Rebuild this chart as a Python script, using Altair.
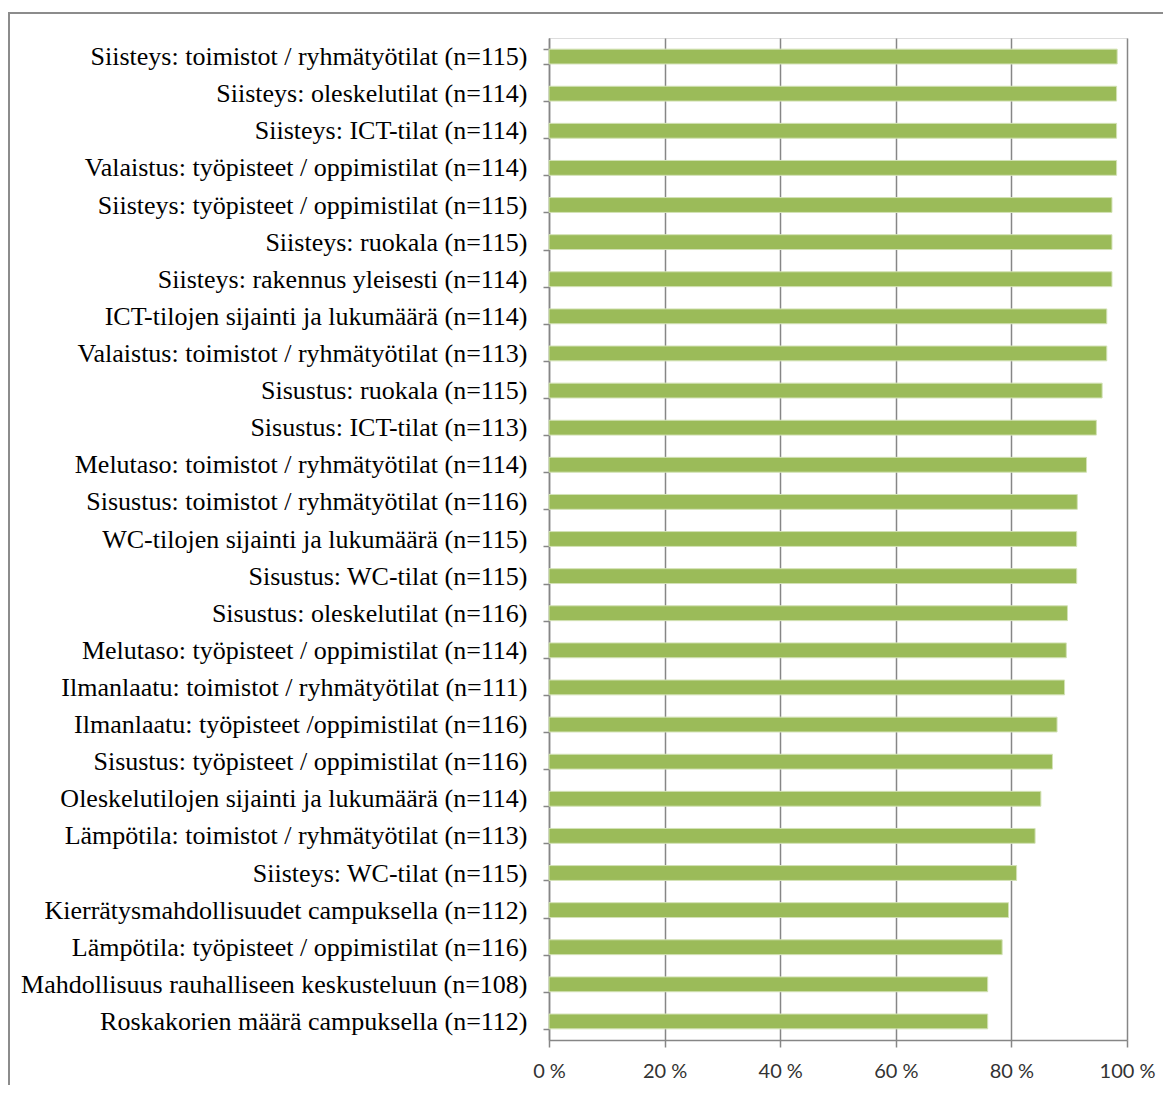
import altair as alt
import pandas as pd

categories = [
    "Siisteys: toimistot / ryhmätyötilat (n=115)",
    "Siisteys: oleskelutilat (n=114)",
    "Siisteys: ICT-tilat (n=114)",
    "Valaistus: työpisteet / oppimistilat (n=114)",
    "Siisteys: työpisteet / oppimistilat (n=115)",
    "Siisteys: ruokala (n=115)",
    "Siisteys: rakennus yleisesti (n=114)",
    "ICT-tilojen sijainti ja lukumäärä (n=114)",
    "Valaistus: toimistot / ryhmätyötilat (n=113)",
    "Sisustus: ruokala (n=115)",
    "Sisustus: ICT-tilat (n=113)",
    "Melutaso: toimistot / ryhmätyötilat (n=114)",
    "Sisustus: toimistot / ryhmätyötilat (n=116)",
    "WC-tilojen sijainti ja lukumäärä (n=115)",
    "Sisustus: WC-tilat (n=115)",
    "Sisustus: oleskelutilat (n=116)",
    "Melutaso: työpisteet / oppimistilat (n=114)",
    "Ilmanlaatu: toimistot / ryhmätyötilat (n=111)",
    "Ilmanlaatu: työpisteet /oppimistilat (n=116)",
    "Sisustus: työpisteet / oppimistilat (n=116)",
    "Oleskelutilojen sijainti ja lukumäärä (n=114)",
    "Lämpötila: toimistot / ryhmätyötilat (n=113)",
    "Siisteys: WC-tilat (n=115)",
    "Kierrätysmahdollisuudet campuksella (n=112)",
    "Lämpötila: työpisteet / oppimistilat (n=116)",
    "Mahdollisuus rauhalliseen keskusteluun (n=108)",
    "Roskakorien määrä campuksella (n=112)",
]

values = [
    98.3, 98.2, 98.2, 98.2, 97.4, 97.4, 97.4, 96.5, 96.5, 95.7,
    94.7, 93.0, 91.4, 91.3, 91.3, 89.7, 89.5, 89.2, 87.9, 87.1,
    85.1, 84.1, 80.9, 79.5, 78.4, 75.9, 75.9,
]

x_ticks = [0, 20, 40, 60, 80, 100]

df = pd.DataFrame({"kohde": categories, "osuus": values})

GRID = "#868686"

bars = alt.Chart(df).mark_bar(
    color="#9BBB59", stroke="#D3E2B6", strokeWidth=1
).encode(
    x=alt.X(
        "osuus:Q",
        scale=alt.Scale(domain=[0, 100], nice=False),
        axis=alt.Axis(
            values=x_ticks,
            title=None,
            labelExpr="datum.value + ' %'",
            labelFont="Lato",
            labelFontSize=20,
            labelColor="#333333",
            labelPadding=14,
            labelFlush=False,
            tickSize=7,
            tickColor=GRID,
            tickWidth=1.5,
            domainColor=GRID,
            domainWidth=1.5,
            grid=True,
            gridColor=GRID,
            gridWidth=1.5,
        ),
    ),
    y=alt.Y(
        "kohde:N",
        sort=categories,
        scale=alt.Scale(paddingInner=0.6, paddingOuter=0.3),
        axis=alt.Axis(
            title=None,
            labelFont="Liberation Serif",
            labelFontSize=26,
            labelColor="#000000",
            labelPadding=16,
            labelLimit=600,
            tickBand="extent",
            tickSize=6,
            tickColor=GRID,
            tickWidth=1.5,
            domainColor=GRID,
            domainWidth=1.5,
            grid=False,
        ),
    ),
)

frame_df = pd.DataFrame({"f": [0]})
frame = alt.Chart(frame_df).mark_rect(
    fill="white", fillOpacity=0, stroke="#8C8C8C", strokeWidth=2
).encode(
    x=alt.value(-540),
    x2=alt.value(700),
    y=alt.value(-25),
    y2=alt.value(1100),
)

chart = alt.layer(frame, bars).properties(
    width=578,
    height=1002,
    autosize=alt.AutoSizeParams(type="none"),
    padding={"left": 541, "top": 30, "right": 36, "bottom": 45},
).configure_view(stroke=None).configure(background="white")

chart.save("out.html", embed_options={"renderer": "svg", "actions": False})
